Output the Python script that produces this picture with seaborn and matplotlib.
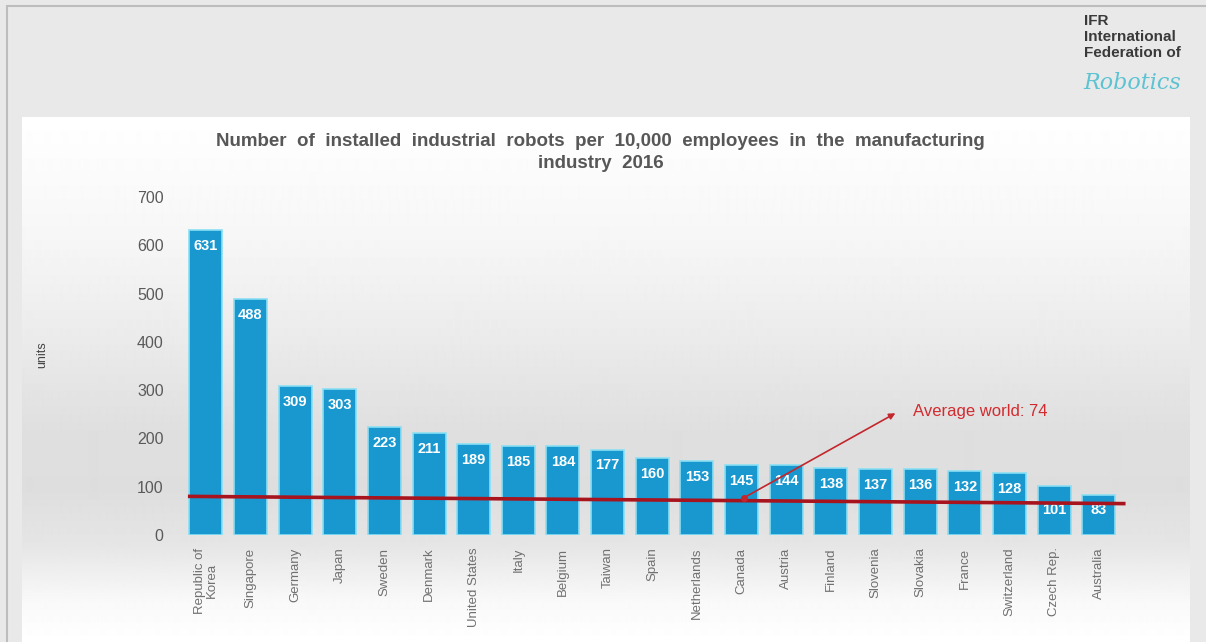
import numpy as np
import pandas as pd
import matplotlib
matplotlib.use("Agg")
import matplotlib.pyplot as plt
from matplotlib.patches import Rectangle
import seaborn as sns

# Data
countries = ['Republic of\nKorea', 'Singapore', 'Germany', 'Japan', 'Sweden', 'Denmark',
             'United States', 'Italy', 'Belgium', 'Taiwan', 'Spain', 'Netherlands',
             'Canada', 'Austria', 'Finland', 'Slovenia', 'Slovakia', 'France',
             'Switzerland', 'Czech Rep.', 'Australia']
robots = [631, 488, 309, 303, 223, 211, 189, 185, 184, 177, 160, 153,
          145, 144, 138, 137, 136, 132, 128, 101, 83]
avg_world = 74
avg_line_ends = [80, 65]          # the drawn line on the slide is slightly tilted
y_ticks = [0, 100, 200, 300, 400, 500, 600, 700]

df = pd.DataFrame({'country': countries, 'robots': robots})

sns.set_style("white")
plt.rcParams['font.family'] = ['Liberation Sans', 'DejaVu Sans']

W, H = 1206, 642
fig = plt.figure(figsize=(W / 100, H / 100), dpi=100, facecolor='#e9e9e9')

# slide background: grey frame + white panel with vertical gradient
bg = fig.add_axes([0, 0, 1, 1], zorder=-5)
bg.add_patch(Rectangle((7, 6), W, H, facecolor='#e9e9e9', edgecolor='#bdbdbd', lw=1.5, zorder=1))
rows = np.arange(117, H)
shade = np.interp(rows, [117, 240, 330, 430, 490, 545, 600, 642],
                  [1.0, 0.965, 0.925, 0.875, 0.87, 0.9, 0.975, 1.0])
grad = np.repeat(shade[:, None], 2, axis=1)
bg.imshow(grad, extent=[22, 1190, H, 117], cmap='gray', vmin=0, vmax=1,
          aspect='auto', interpolation='bilinear', zorder=2)
bg.set_xlim(0, W)
bg.set_ylim(H, 0)
bg.axis('off')

# main chart
ax = fig.add_axes([179 / W, (H - 535) / H, (1130 - 179) / W, (535 - 197) / H])
ax.set_facecolor('none')
sns.barplot(data=df, x='country', y='robots', ax=ax, color='#1998cf',
            width=0.74, edgecolor='#8adff4', linewidth=1.2, saturation=1)

ax.set_xlim(-0.6, 20.7)
ax.set_ylim(0, 700)
ax.set_yticks(y_ticks)
ax.tick_params(axis='y', length=0, pad=11, labelsize=11.5, labelcolor='#5a5a5a')
ax.tick_params(axis='x', length=0, pad=9, labelsize=9.5, labelcolor='#707070')
plt.setp(ax.get_xticklabels(), rotation=90, va='top', ha='center', linespacing=1.0)
for s in ax.spines.values():
    s.set_visible(False)
ax.set_xlabel('')
ax.set_ylabel('')

# value labels inside the bars
for i, v in enumerate(robots):
    y = v - 33
    if y < max(avg_line_ends) + 10:
        y = 52
    ax.text(i, y, str(v), ha='center', va='center', color='white',
            fontsize=10.5, fontweight='bold')

# world average line and callout
ax.plot([-0.4, 20.6], avg_line_ends, color='#a8141e', lw=2.6, solid_capstyle='butt', zorder=5)
canada = countries.index('Canada')
ax.annotate('', xy=(15.5, 255), xytext=(canada + 0.05, 77),
            arrowprops=dict(arrowstyle='-|>', color='#c3262c', lw=1.2, mutation_scale=9),
            zorder=6)
ax.plot([canada + 0.05], [77], 'o', color='#c3262c', ms=4, zorder=6)
ax.text(15.85, 255, f'Average world: {avg_world}', color='#d22b2f', fontsize=12,
        ha='left', va='center')

# titles and slide texts
fig.text(0.498, 1 - 141 / H,
         'Number  of  installed  industrial  robots  per  10,000  employees  in  the  manufacturing',
         ha='center', va='center', fontsize=13.5, fontweight='bold', color='#575757')
fig.text(0.498, 1 - 164 / H, 'industry  2016',
         ha='center', va='center', fontsize=13.5, fontweight='bold', color='#575757')
fig.text(42 / W, 1 - 355 / H, 'units', rotation=90, ha='center', va='center',
         fontsize=9, color='#444444')

fig.text(1084 / W, 1 - 14 / H, 'IFR\nInternational\nFederation of', ha='left', va='top',
         fontsize=11, fontweight='bold', color='#3a3a3a', linespacing=1.2)
fig.text(1083 / W, 1 - 83 / H, 'Robotics', ha='left', va='center', fontsize=16,
         fontstyle='italic', color='#5cc3d3', family=['DejaVu Serif'])

fig.savefig('out.png', dpi=100, facecolor=fig.get_facecolor())
